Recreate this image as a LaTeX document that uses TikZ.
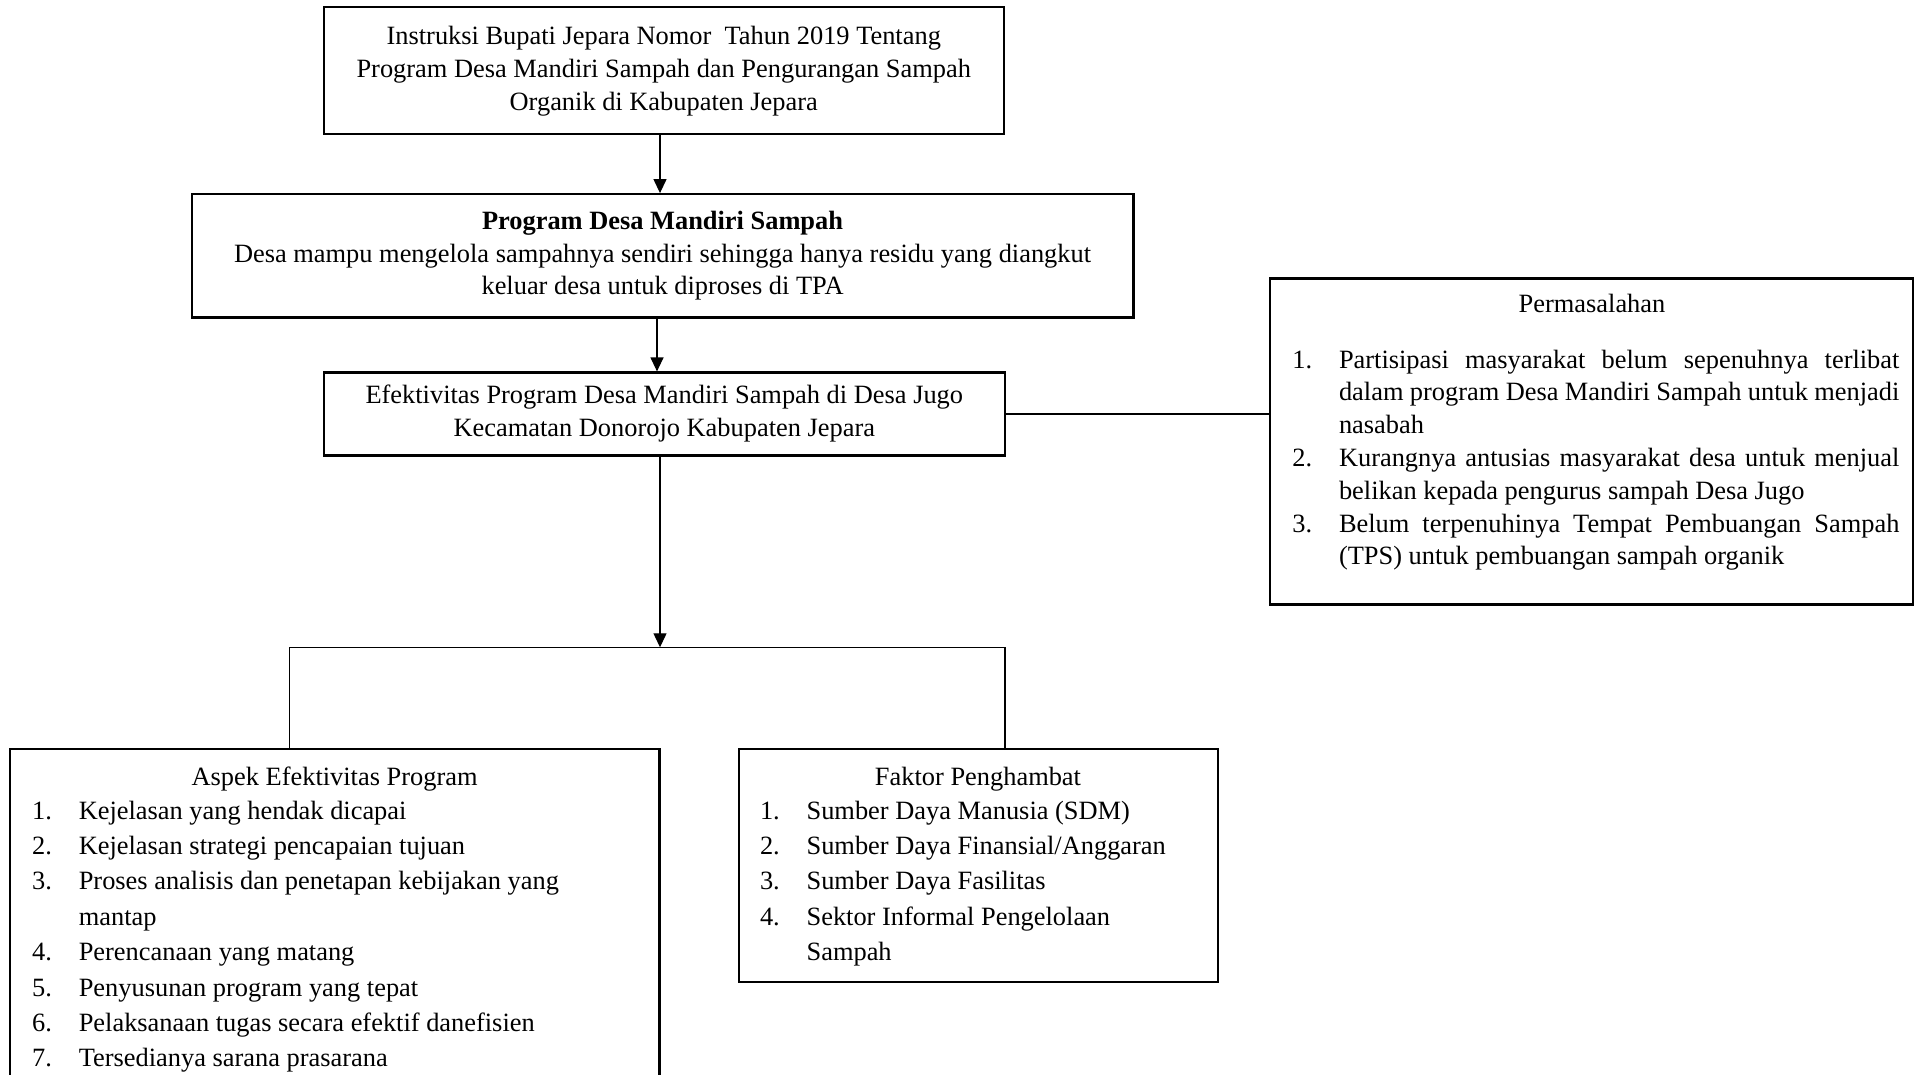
\documentclass[tikz,border=0pt]{standalone}
\usepackage{fontspec}
\setmainfont{Liberation Serif}
\usetikzlibrary{arrows.meta,fit,calc}
\newcommand\itm[1]{\hangindent=23.3pt\hangafter=1\noindent\makebox[23.3pt][l]{#1}}
\begin{document}
\hyphenpenalty=10000
\exhyphenpenalty=10000
\begin{tikzpicture}[x=0.5pt,y=-0.5pt,
  box/.style={draw, line width=1.1pt, inner sep=0pt},
  conn/.style={line width=0.6pt},
  arr/.style={line width=0.6pt,-{Triangle[length=7pt,width=6.5pt]}},
  txt/.style={inner sep=0pt, font=\fontsize{13.2}{16.5}\selectfont, align=center},
  ttl/.style={inner sep=0pt, anchor=base, font=\fontsize{13.2}{16.5}\selectfont},
  lst/.style={inner sep=0pt, anchor=base west, font=\fontsize{13.2}{17.7}\selectfont, align=flush left},
]
\useasboundingbox (0,0) rectangle (1915,1075);
\clip (0,0) rectangle (1915,1075);

% boxes
\node[box, fit={(323.6,7.3) (1003.9,134.3)}] (b1) {};
\node[box, fit={(191.7,194.2) (1133.4,317.5)}] (b2) {};
\node[box, fit={(323.6,372.5) (1005,455.5)}] (b3) {};
\node[box, fit={(1270,278.5) (1913,604.5)}] (perm) {};
\node[box, fit={(9.8,748.6) (659.5,1100)}] (asp) {};
\node[box, fit={(739,748.6) (1217.6,982)}] (fak) {};

% texts
\node[txt] (t1) at (b1.center) {Instruksi Bupati Jepara Nomor\ \ Tahun 2019 Tentang\\Program Desa Mandiri Sampah dan Pengurangan Sampah\\Organik di Kabupaten Jepara};
\node[txt, font=\fontsize{13.2}{16.2}\selectfont] (t2) at (b2.center) {\textbf{Program Desa Mandiri Sampah}\\Desa mampu mengelola sampahnya sendiri sehingga hanya residu yang diangkut\\keluar desa untuk diproses di TPA};
\node[txt] (t3) at (b3.center) {Efektivitas Program Desa Mandiri Sampah di Desa Jugo\\Kecamatan Donorojo Kabupaten Jepara};

\node[ttl] (ptitle) at (1592,312) {Permasalahan};
\node[lst, align=justify, text width=303.5pt, font=\fontsize{13.2}{16.4}\selectfont] (plist) at (1292,368)
 {\itm{1.}Partisipasi masyarakat belum sepenuhnya terlibat dalam program Desa Mandiri Sampah untuk menjadi nasabah\par
  \itm{2.}Kurangnya antusias masyarakat desa untuk menjual belikan kepada pengurus sampah Desa Jugo\par
  \itm{3.}Belum terpenuhinya Tempat Pembuangan Sampah (TPS) untuk pembuangan sampah organik\par};

\node[ttl] (atitle) at (334.6,785) {Aspek Efektivitas Program};
\node[lst, text width=288.3pt] (alist) at (31.8,819)
 {\itm{1.}Kejelasan yang hendak dicapai\par
  \itm{2.}Kejelasan strategi pencapaian tujuan\par
  \itm{3.}Proses analisis dan penetapan kebijakan yang mantap\par
  \itm{4.}Perencanaan yang matang\par
  \itm{5.}Penyusunan program yang tepat\par
  \itm{6.}Pelaksanaan tugas secara efektif danefisien\par
  \itm{7.}Tersedianya sarana prasarana\par};

\node[ttl] (ftitle) at (978,785) {Faktor Penghambat};
\node[lst, text width=213.3pt] (flist) at (759.6,819)
 {\itm{1.}Sumber Daya Manusia (SDM)\par
  \itm{2.}Sumber Daya Finansial/Anggaran\par
  \itm{3.}Sumber Daya Fasilitas\par
  \itm{4.}Sektor Informal Pengelolaan Sampah\par};

% connectors
\coordinate (j) at (660,647.3);
\coordinate (j2) at (657,0);
\coordinate (la) at (289.4,0);
\coordinate (lf) at (1005,0);
\draw[arr] (b1.south -| j) -- (b2.north -| j);
\draw[arr] (b2.south -| j2) -- (b3.north -| j2);
\draw[arr] (b3.south -| j) -- (j);
\draw[conn] (asp.north -| la) |- (j) -| (fak.north -| lf);
\draw[conn] (b3.east) -- (perm.west |- b3.east);
\end{tikzpicture}
\end{document}
